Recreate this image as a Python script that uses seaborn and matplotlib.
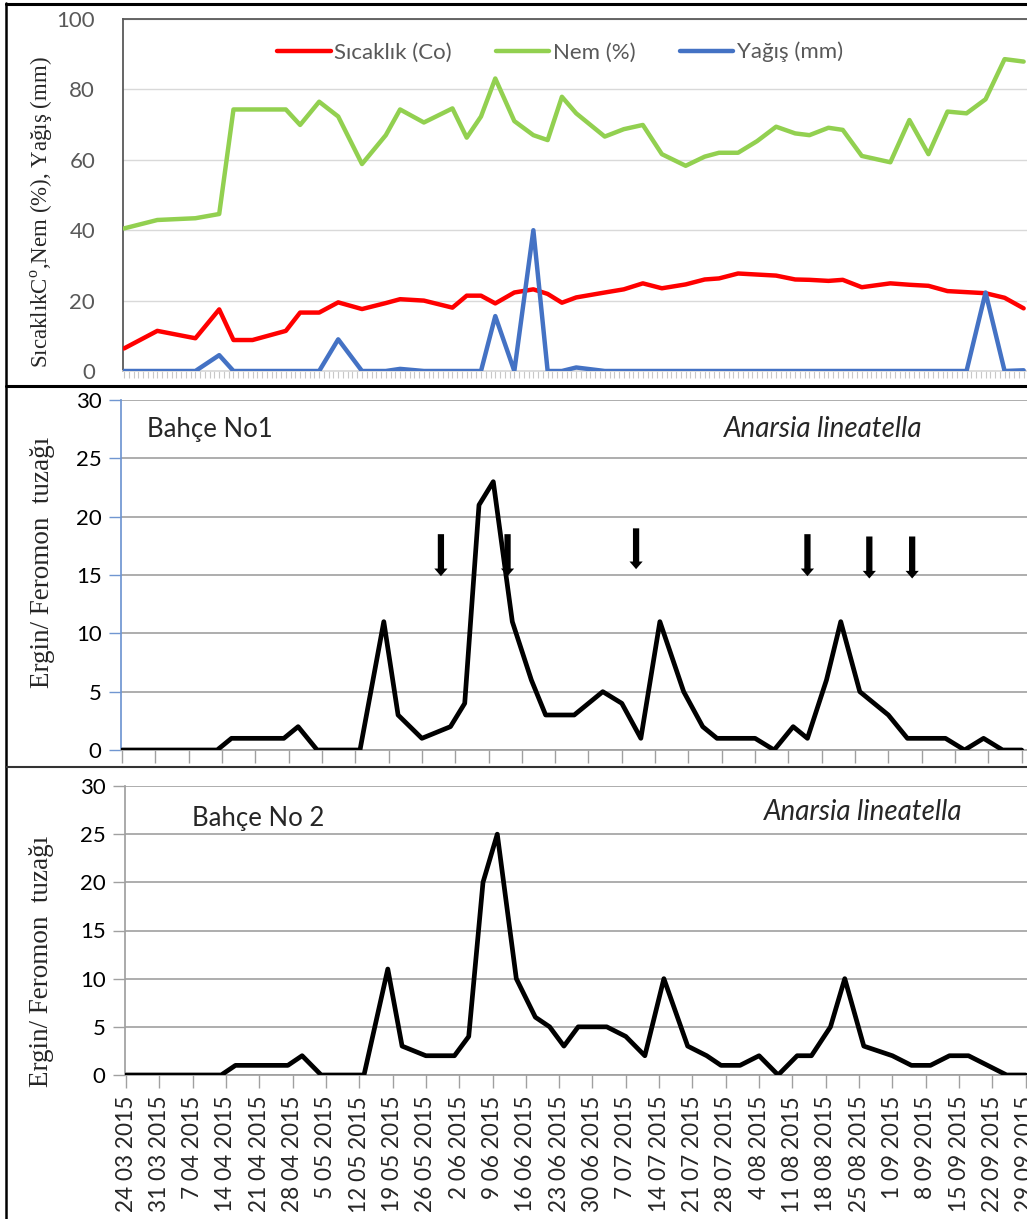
import matplotlib
matplotlib.use("Agg")
import matplotlib.pyplot as plt
import matplotlib.dates as mdates
from matplotlib.lines import Line2D
import pandas as pd
import seaborn as sns

# sampling dates (same for weather and trap counts)
dates = ["2015-03-24", "2015-03-31", "2015-04-08", "2015-04-13", "2015-04-16", "2015-04-20",
         "2015-04-27", "2015-04-30", "2015-05-04", "2015-05-08", "2015-05-13", "2015-05-18",
         "2015-05-21", "2015-05-26", "2015-06-01", "2015-06-04", "2015-06-07", "2015-06-10",
         "2015-06-14", "2015-06-18", "2015-06-21", "2015-06-24", "2015-06-27", "2015-07-03",
         "2015-07-07", "2015-07-11", "2015-07-15", "2015-07-20", "2015-07-24", "2015-07-27",
         "2015-07-31", "2015-08-04", "2015-08-08", "2015-08-12", "2015-08-15", "2015-08-19",
         "2015-08-22", "2015-08-26", "2015-09-01", "2015-09-05", "2015-09-09", "2015-09-13",
         "2015-09-17", "2015-09-21", "2015-09-25", "2015-09-29"]

sicaklik = [6.4, 11.4, 9.3, 17.5, 8.8, 8.8, 11.4, 16.6, 16.6, 19.5, 17.6, 19.3, 20.4, 20.0,
            18.0, 21.4, 21.4, 19.2, 22.3, 23.2, 21.9, 19.4, 20.9, 22.3, 23.2, 24.9, 23.5,
            24.6, 26.0, 26.3, 27.7, 27.4, 27.1, 26.0, 25.9, 25.6, 25.9, 23.8, 24.9, 24.5,
            24.2, 22.7, 22.4, 22.1, 20.8, 17.8]
nem = [40.5, 42.9, 43.4, 44.6, 74.3, 74.3, 74.3, 69.9, 76.5, 72.3, 58.8, 67.0, 74.3, 70.6,
       74.6, 66.3, 72.3, 83.1, 71.0, 67.0, 65.6, 77.9, 73.2, 66.6, 68.7, 69.9, 61.6, 58.3,
       60.9, 62.0, 62.0, 65.3, 69.4, 67.5, 67.0, 69.1, 68.5, 61.1, 59.3, 71.3, 61.6, 73.7,
       73.2, 77.2, 88.6, 87.9]
yagis = [0, 0, 0, 4.5, 0, 0, 0, 0, 0, 9.0, 0, 0, 0.6, 0, 0, 0, 0, 15.6, 0, 40.0, 0, 0, 1.0,
         0, 0, 0, 0, 0, 0, 0, 0, 0, 0, 0, 0, 0, 0, 0, 0, 0, 0, 0, 0, 22.3, 0, 0.2]

bahce1 = [0, 0, 0, 0, 1, 1, 1, 2, 0, 0, 0, 11, 3, 1, 2, 4, 21, 23, 11, 6, 3, 3, 3, 5, 4, 1,
          11, 5, 2, 1, 1, 1, 0, 2, 1, 6, 11, 5, 3, 1, 1, 1, 0, 1, 0, 0]
bahce2 = [0, 0, 0, 0, 1, 1, 1, 2, 0, 0, 0, 11, 3, 2, 2, 4, 20, 25, 10, 6, 5, 3, 5, 5, 4, 2,
          10, 3, 2, 1, 1, 2, 0, 2, 2, 5, 10, 3, 2, 1, 1, 2, 2, 1, 0, 0]

# spraying dates (arrows in garden 1), arrow tail / tip heights
ilaclama = ["2015-05-30", "2015-06-13", "2015-07-10", "2015-08-15", "2015-08-28", "2015-09-06"]
ok_ust = [18.5, 18.5, 19.0, 18.5, 18.3, 18.3]
ok_uc = [14.9, 14.9, 15.5, 14.9, 14.7, 14.7]

week_labels = ["24 03 2015", "31 03 2015", "7 04 2015", "14 04 2015", "21 04 2015",
               "28 04 2015", "5 05 2015", "12 05 2015", "19 05 2015", "26 05 2015",
               "2 06 2015", "9 06 2015", "16 06 2015", "23 06 2015", "30 06 2015",
               "7 07 2015", "14 07 2015", "21 07 2015", "28 07 2015", "4 08 2015",
               "11 08 2015", "18 08 2015", "25 08 2015", "1 09 2015", "8 09 2015",
               "15 09 2015", "22 09 2015", "29 09 2015"]

sns.set_theme(style="white")
plt.rcParams['font.family'] = ['Lato', 'DejaVu Sans']
plt.rcParams['mathtext.fontset'] = 'custom'
plt.rcParams['mathtext.rm'] = 'Liberation Serif'
plt.rcParams['axes.unicode_minus'] = False

df = pd.DataFrame({"tarih": pd.to_datetime(dates), "Sıcaklık (Co)": sicaklik,
                   "Nem (%)": nem, "Yağış (mm)": yagis,
                   "bahce1": bahce1, "bahce2": bahce2})
week_pos = pd.to_datetime(week_labels, format="%d %m %Y")

W, H = 1027, 1219
fig = plt.figure(figsize=(W / 100, H / 100), dpi=100)
PPD = 4.76  # px per day
RIGHT = 1045
t0 = mdates.date2num(pd.Timestamp("2015-03-24"))


def px_axes(left, top, bottom, day0):
    ax = fig.add_axes([left / W, 1 - bottom / H, (RIGHT - left) / W, (bottom - top) / H])
    lo = t0 - (day0 - left) / PPD
    ax.set_xlim(lo, lo + (RIGHT - left) / PPD)
    return ax


# ---------- top panel: weather ----------
ax1 = px_axes(123, 19, 371, 124)
colors = {"Sıcaklık (Co)": "#FF0000", "Nem (%)": "#92D050", "Yağış (mm)": "#4472C4"}
for col, c in colors.items():
    sns.lineplot(data=df, x="tarih", y=col, ax=ax1, color=c, lw=3.2, label=col, zorder=3)
ax1.set_ylim(0, 100)
ax1.set_yticks(range(0, 101, 20))
ax1.yaxis.grid(True, color="#D9D9D9", lw=1)
ax1.set_xlabel("")
ax1.set_ylabel("")
ax1.xaxis.set_major_locator(mdates.DayLocator())
ax1.tick_params(axis="x", length=5, width=0.8, color="#C8C8C8", labelbottom=False,
                direction="out", bottom=True)
ax1.tick_params(axis="y", length=0, pad=20, labelsize=16, labelcolor="#595959")
for s in ["top", "left"]:
    ax1.spines[s].set_color("#595959")
    ax1.spines[s].set_linewidth(1.3)
ax1.spines["bottom"].set_color("#D9D9D9")
ax1.spines["right"].set_visible(False)
ax1.legend(loc="center", bbox_to_anchor=(0.474, 0.906), ncol=3, frameon=False,
           fontsize=16, handlelength=2.4, handletextpad=0.15, columnspacing=2.0,
           labelcolor="#595959")

# ---------- middle panel: garden 1 ----------
def trap_axes(ax, col, left_color):
    sns.lineplot(data=df, x="tarih", y=col, ax=ax, color="black", lw=3.4, zorder=3)
    ax.set_ylim(0, 30)
    ax.set_yticks(range(0, 31, 5))
    ax.yaxis.grid(True, color="#A0A0A0", lw=1.2)
    ax.set_xlabel("")
    ax.set_ylabel("")
    ax.set_xticks(week_pos)
    ax.tick_params(axis="x", length=9, width=1, color="#A0A0A0", direction="out", bottom=True)
    ax.tick_params(axis="y", length=9, width=1, color=left_color, direction="out", left=True,
                   labelsize=16, labelcolor="black", pad=5)
    ax.spines["left"].set_color(left_color)
    ax.spines["bottom"].set_color("#A0A0A0")
    ax.spines["top"].set_visible(False)
    ax.spines["right"].set_visible(False)


ax2 = px_axes(121, 400, 750, 122)
trap_axes(ax2, "bahce1", "#7096D1")
ax2.tick_params(axis="x", labelbottom=False)
ax2.text(0.0283, 0.917, "Bahçe No1", transform=ax2.transAxes, fontsize=18.5, va="center")
ax2.text(0.652, 0.917, "Anarsia lineatella", transform=ax2.transAxes, fontsize=20,
         va="center", style="italic")
for d, y0, y1 in zip(ilaclama, ok_ust, ok_uc):
    ax2.annotate("", xy=(pd.Timestamp(d), y1), xytext=(pd.Timestamp(d), y0),
                 arrowprops=dict(arrowstyle="simple,head_length=0.55,head_width=0.95,tail_width=0.45",
                                 mutation_scale=10, lw=0, color="black",
                                 shrinkA=0, shrinkB=0), zorder=4)

# ---------- bottom panel: garden 2 ----------
ax3 = px_axes(125, 786, 1075, 126)
trap_axes(ax3, "bahce2", "#A0A0A0")
ax3.set_xticklabels(week_labels, rotation=90, fontsize=16.3)
ax3.tick_params(axis="x", pad=6)
ax3.text(0.073, 0.888, "Bahçe No 2", transform=ax3.transAxes, fontsize=18.5, va="center")
ax3.text(0.695, 0.91, "Anarsia lineatella", transform=ax3.transAxes, fontsize=20,
         va="center", style="italic")

# y labels (serif)
serif = "Liberation Serif"
fig.text(42 / W, 1 - 212 / H, r"SıcaklıkC$^{\mathrm{o}}$,Nem (%), Yağış (mm)", rotation=90,
         ha="center", va="center", fontsize=16.5, family=serif)
fig.text(43 / W, 1 - 562 / H, "Ergin/ Feromon  tuzağı", rotation=90, ha="center",
         va="center", fontsize=19.5, family=serif)
fig.text(42 / W, 1 - 961 / H, "Ergin/ Feromon  tuzağı", rotation=90, ha="center",
         va="center", fontsize=19.5, family=serif)


# panel frames
def fline(x0, y0, x1, y1, lw, c="black"):
    fig.add_artist(Line2D([x0 / W, x1 / W], [1 - y0 / H, 1 - y1 / H],
                          transform=fig.transFigure, color=c, lw=lw))


fline(6, 4, W + 5, 4, 2.2)
fline(6, 3, 6, H + 5, 1.8)
fline(6, 386, W + 5, 386, 2.2)
fline(6, 767, W + 5, 767, 1.5, "#333333")

fig.savefig("out.png", dpi=100)
